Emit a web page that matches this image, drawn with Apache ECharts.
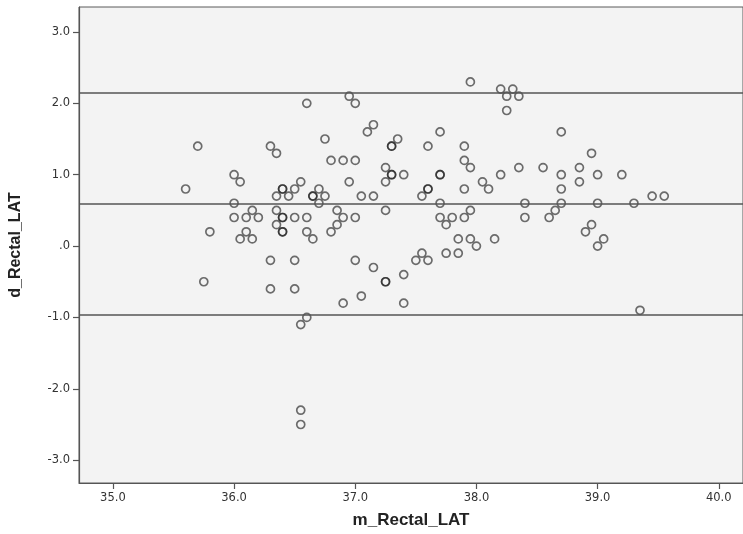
<!DOCTYPE html>
<html>
<head>
<meta charset="utf-8">
<script src="https://cdn.jsdelivr.net/npm/echarts@6/dist/echarts.min.js"></script>
<style>
  html, body { margin: 0; padding: 0; background: #fff; }
  #main { width: 743px; height: 534px; }
</style>
</head>
<body>
<div id="main"></div>
<script>
// mean of the two readings (x) and their difference (y)
const mRectal = [
  35.6, 35.7, 35.75, 35.8,
  36.0, 36.0, 36.0, 36.05, 36.05, 36.1, 36.1, 36.15, 36.15, 36.2,
  36.3, 36.3, 36.3, 36.35, 36.35, 36.35, 36.35,
  36.4, 36.4, 36.4, 36.4, 36.4, 36.4, 36.45,
  36.5, 36.5, 36.5, 36.5, 36.55, 36.55, 36.55, 36.55,
  36.6, 36.6, 36.6, 36.6, 36.65, 36.65, 36.65, 36.7, 36.7, 36.75, 36.75,
  36.8, 36.8, 36.85, 36.85, 36.9, 36.9, 36.9, 36.95, 36.95,
  37.0, 37.0, 37.0, 37.0, 37.05, 37.05, 37.1, 37.15, 37.15, 37.15,
  37.25, 37.25, 37.25, 37.25, 37.25, 37.3, 37.3, 37.3, 37.3, 37.35,
  37.4, 37.4, 37.4, 37.5, 37.55, 37.55, 37.6, 37.6, 37.6, 37.6,
  37.7, 37.7, 37.7, 37.7, 37.7, 37.75, 37.75, 37.8, 37.85, 37.85,
  37.9, 37.9, 37.9, 37.9, 37.95, 37.95, 37.95, 37.95,
  38.0, 38.05, 38.1, 38.15, 38.2, 38.2, 38.25, 38.25, 38.3, 38.35, 38.35,
  38.4, 38.4, 38.55, 38.6, 38.65, 38.7, 38.7, 38.7, 38.7,
  38.85, 38.85, 38.9, 38.95, 38.95, 39.0, 39.0, 39.0, 39.05,
  39.2, 39.3, 39.35, 39.45, 39.55
];
const dRectal = [
  0.8, 1.4, -0.5, 0.2,
  1.0, 0.6, 0.4, 0.9, 0.1, 0.4, 0.2, 0.5, 0.1, 0.4,
  1.4, -0.2, -0.6, 1.3, 0.7, 0.5, 0.3,
  0.8, 0.8, 0.4, 0.4, 0.2, 0.2, 0.7,
  0.8, 0.4, -0.2, -0.6, 0.9, -1.1, -2.3, -2.5,
  2.0, 0.4, 0.2, -1.0, 0.7, 0.7, 0.1, 0.8, 0.6, 1.5, 0.7,
  1.2, 0.2, 0.5, 0.3, 1.2, 0.4, -0.8, 2.1, 0.9,
  2.0, 1.2, 0.4, -0.2, 0.7, -0.7, 1.6, 1.7, 0.7, -0.3,
  1.1, 0.9, 0.5, -0.5, -0.5, 1.4, 1.4, 1.0, 1.0, 1.5,
  1.0, -0.4, -0.8, -0.2, 0.7, -0.1, 1.4, 0.8, 0.8, -0.2,
  1.6, 1.0, 1.0, 0.6, 0.4, 0.3, -0.1, 0.4, 0.1, -0.1,
  1.4, 1.2, 0.8, 0.4, 2.3, 1.1, 0.5, 0.1,
  0.0, 0.9, 0.8, 0.1, 2.2, 1.0, 2.1, 1.9, 2.2, 2.1, 1.1,
  0.6, 0.4, 1.1, 0.4, 0.5, 1.6, 1.0, 0.8, 0.6,
  1.1, 0.9, 0.2, 1.3, 0.3, 1.0, 0.6, 0.0, 0.1,
  1.0, 0.6, -0.9, 0.7, 0.7
];

// mean difference and limits of agreement
const refLines = [2.146, 0.592, -0.962];

const xTicks = [35, 36, 37, 38, 39, 40];
const yTicks = [-3, -2, -1, 0, 1, 2, 3];

const fmt = v => (v === 0 ? '.0' : v.toFixed(1));

const chart = echarts.init(document.getElementById('main'));

const points = mRectal.map((x, i) => [x, dRectal[i]]);

const option = {
  animation: false,
  backgroundColor: '#fff',
  grid: {
    left: 78, top: 7, right: -3, bottom: 50,
    show: true,
    backgroundColor: '#f3f3f3',
    borderColor: '#5a5a5a',
    borderWidth: 1
  },
  xAxis: {
    type: 'value',
    min: 34.72, max: 40.2,
    name: 'm_Rectal_LAT',
    nameLocation: 'middle',
    nameGap: 29,
    nameTextStyle: { fontFamily: 'Liberation Sans', fontWeight: 'bold', fontSize: 17, color: '#222' },
    axisLine: { show: true, onZero: false, lineStyle: { color: '#555', width: 1.2 } },
    axisTick: { show: true, length: 6, customValues: xTicks, lineStyle: { color: '#555', width: 1.2 } },
    axisLabel: { customValues: xTicks, formatter: fmt, margin: 9, fontFamily: 'DejaVu Sans', fontSize: 11.5, color: '#333' },
    splitLine: { show: false }
  },
  yAxis: {
    type: 'value',
    min: -3.32, max: 3.35,
    name: 'd_Rectal_LAT',
    nameLocation: 'middle',
    nameGap: 55,
    nameTextStyle: { fontFamily: 'Liberation Sans', fontWeight: 'bold', fontSize: 16, color: '#222' },
    axisLine: { show: true, onZero: false, lineStyle: { color: '#555', width: 1.2 } },
    axisTick: { show: true, length: 6, customValues: yTicks, lineStyle: { color: '#555', width: 1.2 } },
    axisLabel: { customValues: yTicks, formatter: fmt, margin: 9, fontFamily: 'DejaVu Sans', fontSize: 11.5, color: '#333' },
    splitLine: { show: false }
  },
  series: [{
    type: 'scatter',
    data: points,
    symbol: 'circle',
    symbolSize: 8,
    itemStyle: {
      color: 'rgba(0,0,0,0)',
      borderColor: 'rgba(30,30,30,0.8)',
      borderWidth: 1.7
    },
    markLine: {
      silent: true,
      symbol: 'none',
      label: { show: false },
      lineStyle: { type: 'solid', color: '#555', width: 1.5 },
      data: refLines.map(v => ({ yAxis: v }))
    }
  }]
};

chart.setOption(option);
</script>
</body>
</html>
